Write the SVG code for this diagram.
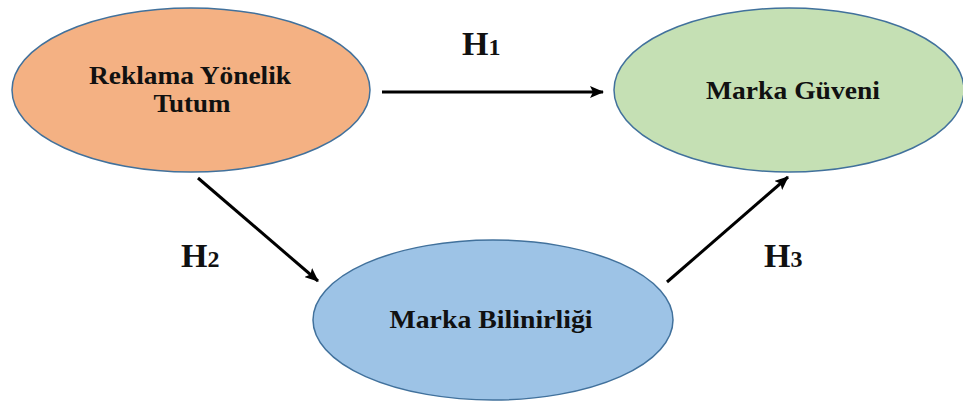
<svg xmlns="http://www.w3.org/2000/svg" width="963" height="402" viewBox="0 0 963 402">
<style>
.node{stroke:#41719C;stroke-width:1.5}
.lbl{font-family:"Liberation Serif","Times New Roman",serif;font-weight:bold;font-size:26px;fill:#111;text-anchor:middle}
.h{font-family:"Liberation Serif","Times New Roman",serif;font-weight:bold;font-size:34px;fill:#111}
.hs{font-size:24px}
.conn{stroke:#000;stroke-width:3;fill:none;marker-end:url(#ah)}
</style>
<defs>
<marker id="ah" markerUnits="userSpaceOnUse" markerWidth="14" markerHeight="12" refX="13" refY="6" orient="auto">
<path d="M0,0 L14,6 L0,12 L3,6 Z" fill="#000"/>
</marker>
</defs>
<rect width="963" height="402" fill="#fff"/>
<g id="reklama">
<ellipse class="node" cx="191" cy="90" rx="179" ry="82" fill="#F4B183"/>
<text class="lbl" x="190" y="84" textLength="202" lengthAdjust="spacingAndGlyphs">Reklama Yönelik</text>
<text class="lbl" x="192" y="112" textLength="77" lengthAdjust="spacingAndGlyphs">Tutum</text>
</g>
<g id="guven">
<ellipse class="node" cx="789" cy="90" rx="175" ry="82" fill="#C5E0B4"/>
<text class="lbl" x="793" y="99" textLength="174" lengthAdjust="spacingAndGlyphs">Marka Güveni</text>
</g>
<g id="bilinirlik">
<ellipse class="node" cx="493" cy="320" rx="180" ry="80" fill="#9DC3E6"/>
<text class="lbl" x="491" y="328" textLength="203" lengthAdjust="spacingAndGlyphs">Marka Bilinirliği</text>
</g>
<g id="connectors">
<line class="conn" x1="382" y1="92" x2="603" y2="92"/>
<line class="conn" x1="198" y1="178" x2="318" y2="281"/>
<line class="conn" x1="667" y1="282" x2="788" y2="177"/>
</g>
<g id="labels">
<text class="h" x="462" y="55">H<tspan class="hs">1</tspan></text>
<text class="h" x="181" y="267">H<tspan class="hs">2</tspan></text>
<text class="h" x="764" y="267">H<tspan class="hs">3</tspan></text>
</g>
</svg>
